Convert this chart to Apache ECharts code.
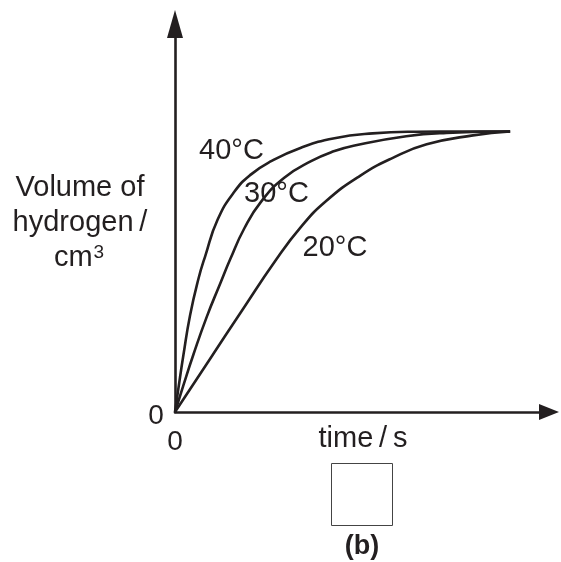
<!DOCTYPE html>
<html><head><meta charset="utf-8">
<script src="https://cdn.jsdelivr.net/npm/echarts@6/dist/echarts.min.js"></script>
<style>html,body{margin:0;padding:0;background:#fff}#c{width:561px;height:562px}</style>
</head><body><div id="c"></div>
<script>
// Data (arbitrary units: time 0..10 to convergence, volume 0..10 at plateau)
const time40 = [0, 0.1, 0.25, 0.45, 0.7, 0.9, 1.27, 1.77, 2.27, 2.87, 3.76, 4.76, 5.9, 7.2, 8.6, 10];
const vol40  = [0, 0.83, 2.02, 3.45, 4.75, 5.55, 6.85, 7.85, 8.47, 8.94, 9.42, 9.76, 9.93, 9.99, 10.0, 10.0];
const time30 = [0, 0.25, 0.55, 0.95, 1.35, 1.65, 2.07, 2.57, 3.26, 4.06, 4.76, 5.36, 6.9, 8.1, 10];
const vol30  = [0, 0.95, 2.05, 3.4, 4.58, 5.45, 6.55, 7.5, 8.35, 8.94, 9.30, 9.50, 9.83, 9.95, 10.0];
const time20 = [0, 1, 2, 3, 3.76, 4.51, 5.51, 6.5, 7.51, 8.89, 10];
const vol20  = [0, 1.81, 3.62, 5.40, 6.6, 7.52, 8.41, 9.06, 9.54, 9.86, 10.0];
const seriesNames = ['40°C', '30°C', '20°C'];
const xTickLabels = ['0'];
const yTickLabels = ['0'];
const xMax = 11.16, yMax = 13.83;

const ink = '#231f20';
const FONT = 'Liberation Sans, Arial, sans-serif';
const FS = 29;
const zip = (a, b) => a.map((v, i) => [v, b[i]]);

const chart = echarts.init(document.getElementById('c'));
const mkSeries = (name, t, v) => ({
  name, type: 'line', data: zip(t, v), smooth: 0.5, symbol: 'none',
  lineStyle: { color: ink, width: 2.6 }, silent: true
});
const txt = (x, y, text, extra) => ({ type: 'text', x, y,
  style: Object.assign({ text, fill: ink, fontSize: FS, fontFamily: FONT, align: 'center', verticalAlign: 'middle' }, extra || {}) });
chart.setOption({
  animation: false,
  grid: { left: 175, right: 12, top: 24, bottom: 150 },
  xAxis: {
    type: 'value', min: 0, max: xMax, interval: xMax,
    splitLine: { show: false }, axisTick: { show: false },
    axisLine: { lineStyle: { color: ink, width: 2.6 }, symbol: ['none', 'triangle'], symbolSize: [16, 20] },
    axisLabel: { color: ink, fontSize: 28, fontFamily: FONT, margin: 16,
      formatter: v => v === 0 ? xTickLabels[0] : '' }
  },
  yAxis: {
    type: 'value', min: 0, max: yMax, interval: yMax,
    splitLine: { show: false }, axisTick: { show: false },
    axisLine: { lineStyle: { color: ink, width: 2.6 }, symbol: ['none', 'triangle'], symbolSize: [16, 28] },
    axisLabel: { show: false }
  },
  series: [
    mkSeries(seriesNames[0], time40, vol40),
    mkSeries(seriesNames[1], time30, vol30),
    mkSeries(seriesNames[2], time20, vol20)
  ],
  graphic: [
    txt(156, 416, yTickLabels[0], { fontSize: 28 }),
    txt(231.5, 151, seriesNames[0]),
    txt(276.5, 194, seriesNames[1]),
    txt(335, 248, seriesNames[2]),
    txt(80, 188, 'Volume of'),
    txt(80, 223, 'hydrogen\u2009/'),
    { type: 'text', x: 79, y: 258, style: { text: '{a|cm}{s|3}', fill: ink, fontFamily: FONT, align: 'center', verticalAlign: 'middle',
      rich: { a: { fontSize: FS, fontFamily: FONT, fill: ink }, s: { fontSize: 19, fontFamily: FONT, fill: ink, padding: [0, 0, 10, 1] } } } },
    txt(363, 439, 'time\u2009/\u2009s'),
    { type: 'rect', shape: { x: 331.5, y: 463.5, width: 61, height: 62 }, style: { fill: 'none', stroke: '#444', lineWidth: 1 } },
    txt(362, 547, '(b)', { fontSize: 27, fontWeight: 'bold' })
  ]
});
</script></body></html>
